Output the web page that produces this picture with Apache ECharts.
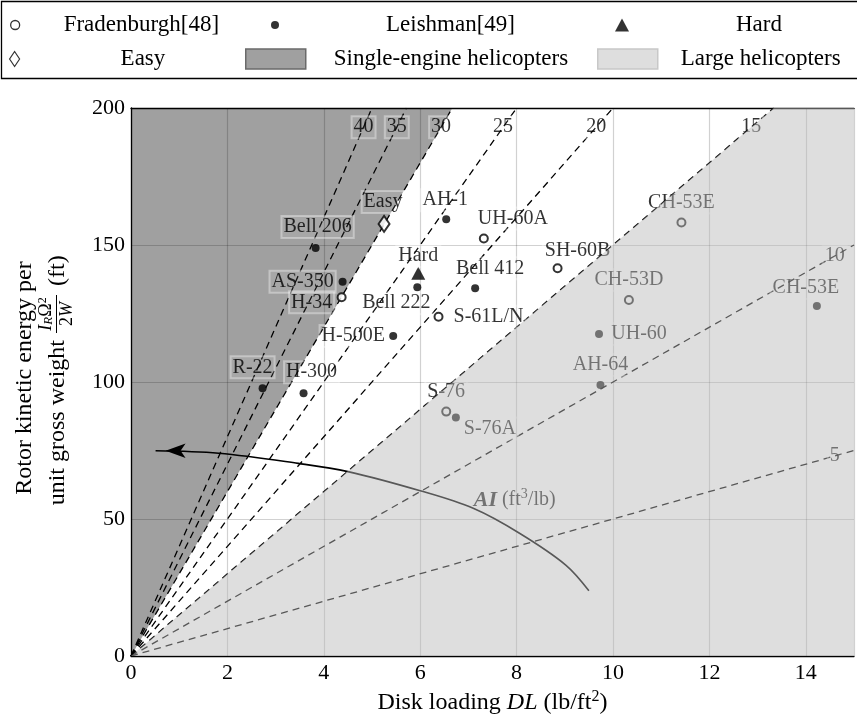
<!DOCTYPE html>
<html>
<head>
<meta charset="utf-8">
<script src="https://cdn.jsdelivr.net/npm/echarts@6/dist/echarts.min.js"></script>
<style>
  html, body { margin: 0; padding: 0; background: #fff; }
  #chart { width: 857px; height: 722px; }
</style>
</head>
<body>
<div id="chart"></div>
<script>
// Data
const fradenburghNames = ['H-34', 'UH-60A', 'S-61L/N', 'SH-60B', 'CH-53E', 'CH-53D', 'S-76'];
const fradenburghDL = [4.37, 7.32, 6.38, 8.85, 11.42, 10.33, 6.54];
const fradenburghKE = [130.9, 152.4, 123.8, 141.5, 158.2, 129.9, 89.2];

const leishmanNames = ['Bell 206', 'AS-350', 'R-22', 'H-300', 'AH-1', 'Bell 222', 'Bell 412', 'H-500E', 'UH-60', 'AH-64', 'S-76A', 'CH-53E'];
const leishmanDL = [3.83, 4.39, 2.73, 3.58, 6.54, 5.94, 7.14, 5.44, 9.71, 9.74, 6.74, 14.23];
const leishmanKE = [148.9, 136.6, 97.7, 95.9, 159.4, 134.6, 134.2, 116.8, 117.5, 98.9, 87.0, 127.7];

const hardPoint = [5.96, 139.7];
const easyPoint = [5.25, 157.7];

// constant autorotative index lines KE = AI * DL
const aiLevels = [40, 35, 30, 25, 20, 15, 10, 5];
const singleEngineAI = 30;   // upper edge of the single-engine wedge
const largeHeliAI = 15;      // upper edge of the large helicopter zone

// AI trend curve
const aiCurveDL = [0.51, 1.82, 3.47, 4.5, 6.0, 7.1, 8.06, 9.02, 9.5];
const aiCurveKE = [74.9, 74.0, 70.3, 67.3, 60.3, 53.9, 44.8, 33.2, 23.8];

const xTicks = { min: 0, max: 15, step: 2 };
const yTicks = { min: 0, max: 200, step: 50 };

// ---------------------------------------------------------------
const FONT = '"Liberation Serif", "DejaVu Serif", serif';

// label offsets from marker centre (px)
const labelOffsets = {
    'Fradenburgh[48]': {
        'H-34': [-30, 5], 'UH-60A': [29, -20], 'S-61L/N': [50, 0], 'SH-60B': [20, -18],
        'CH-53E': [0, -20], 'CH-53D': [0, -20], 'S-76': [0, -20]
    },
    'Leishman[49]': {
        'Bell 206': [2, -21], 'AS-350': [-40, 0], 'R-22': [-10, -21], 'H-300': [8, -21],
        'AH-1': [-1, -19], 'Bell 222': [-21, 16], 'Bell 412': [15, -20], 'H-500E': [-40, 0],
        'UH-60': [40, 0], 'AH-64': [0, -20], 'S-76A': [34, 11], 'CH-53E': [-11, -18]
    }
};

const boxLabel = {
    show: true,
    position: 'inside',
    formatter: '{b}',
    color: '#000',
    fontSize: 20,
    fontFamily: FONT,
    backgroundColor: 'rgba(255,255,255,0.1)',
    borderColor: 'rgba(255,255,255,0.45)',
    borderWidth: 1,
    padding: [2, 2, 0, 2],
    textBorderWidth: 0
};

function pointData(names, xs, ys, offsets) {
    return names.map((n, i) => ({
        name: n,
        value: [xs[i], ys[i]],
        label: { offset: offsets[n] || [0, -20] }
    }));
}

function lineEnd(ai) {
    return ai * xTicks.max <= yTicks.max ? [xTicks.max, ai * xTicks.max] : [yTicks.max / ai, yTicks.max];
}

function regionRenderer(vertices, fill) {
    return function (params, api) {
        return {
            type: 'polygon',
            shape: { points: vertices.map(v => api.coord(v)) },
            style: { fill: fill, stroke: null },
            silent: true
        };
    };
}

const darkFill = '#a0a0a0';
const lightFill = 'rgba(185,185,185,0.475)';

const series = [];

series.push({
    name: 'Single-engine helicopters',
    type: 'custom',
    z: -1,
    clip: true,
    silent: true,
    itemStyle: { color: darkFill, borderColor: '#6a6a6a', borderWidth: 1.5 },
    renderItem: regionRenderer([[0, 0], [0, yTicks.max], [yTicks.max / singleEngineAI, yTicks.max]], darkFill),
    data: [[0, 0]]
});

aiLevels.forEach(ai => {
    series.push({
        name: 'AI ' + ai,
        type: 'line',
        z: 3,
        silent: true,
        symbol: 'none',
        lineStyle: { color: '#000', width: 1.3, type: [7, 5] },
        data: [[0, 0], lineEnd(ai)]
    });
});

series.push({
    name: 'AI labels',
    type: 'scatter',
    z: 4,
    silent: true,
    symbolSize: 1,
    itemStyle: { color: 'rgba(0,0,0,0)' },
    label: boxLabel,
    data: aiLevels.map(ai => {
        const x = Math.min((yTicks.max - 7) / ai, 14.6);
        return { name: String(ai), value: [x, ai * x] };
    })
});

series.push({
    name: 'AI curve',
    type: 'line',
    z: 4,
    silent: true,
    smooth: 0.35,
    symbol: 'none',
    showSymbol: true,
    lineStyle: { color: '#000', width: 1.6 },
    itemStyle: { color: '#000' },
    data: aiCurveDL.map((x, i) => i === 0
        ? { value: [x, aiCurveKE[i]], symbol: 'arrow', symbolSize: [11, 20], symbolRotate: 90, symbolOffset: [10, 0] }
        : [x, aiCurveKE[i]])
});

series.push({
    name: 'AI note',
    type: 'scatter',
    z: 4,
    silent: true,
    symbolSize: 1,
    itemStyle: { color: 'rgba(0,0,0,0)' },
    label: {
        show: true,
        position: 'right',
        distance: 0,
        formatter: '{b|AI}{n| (ft}{s|3}{n|/lb)}',
        rich: {
            b: { fontFamily: FONT, fontSize: 22, fontWeight: 'bold', fontStyle: 'italic', color: '#000', lineHeight: 26 },
            n: { fontFamily: FONT, fontSize: 20, color: '#000', lineHeight: 26 },
            s: { fontFamily: FONT, fontSize: 14, color: '#000', lineHeight: 14, verticalAlign: 'top' }
        }
    },
    data: [[7.1, 56.9]]
});

series.push({
    name: 'Fradenburgh[48]',
    type: 'scatter',
    z: 5,
    silent: true,
    symbol: 'emptyCircle',
    symbolSize: 8,
    itemStyle: { color: '#000', borderColor: '#000', borderWidth: 1.3 },
    label: boxLabel,
    data: pointData(fradenburghNames, fradenburghDL, fradenburghKE, labelOffsets['Fradenburgh[48]'])
});

series.push({
    name: 'Leishman[49]',
    type: 'scatter',
    z: 5,
    silent: true,
    symbol: 'circle',
    symbolSize: 8,
    itemStyle: { color: '#000' },
    label: boxLabel,
    data: pointData(leishmanNames, leishmanDL, leishmanKE, labelOffsets['Leishman[49]'])
});

series.push({
    name: 'Hard',
    type: 'scatter',
    z: 5,
    silent: true,
    symbol: 'triangle',
    symbolSize: [14, 13],
    itemStyle: { color: '#000' },
    label: boxLabel,
    data: [{ name: 'Hard', value: hardPoint, label: { offset: [0, -17] } }]
});

series.push({
    name: 'Easy',
    type: 'scatter',
    z: 5,
    silent: true,
    symbol: 'emptyDiamond',
    symbolSize: [11, 16],
    itemStyle: { color: '#000', borderColor: '#000', borderWidth: 1.3 },
    label: boxLabel,
    data: [{ name: 'Easy', value: easyPoint, label: { offset: [-1, -22] } }]
});

series.push({
    name: 'Large helicopters',
    type: 'custom',
    z: 10,
    clip: true,
    silent: true,
    itemStyle: { color: lightFill, borderColor: '#c8c8c8', borderWidth: 1.5 },
    renderItem: regionRenderer([[0, 0], [yTicks.max / largeHeliAI, yTicks.max], [xTicks.max, yTicks.max], [xTicks.max, 0]], lightFill),
    data: [[0, 0]]
});

function legendItem(name, icon, left, top, w, h, pad, itemStyle) {
    const item = {
        data: [name],
        icon: icon,
        left: left,
        top: top,
        padding: 0,
        itemWidth: w,
        itemHeight: h,
        selectedMode: false,
        textStyle: { fontFamily: FONT, fontSize: 23, color: '#000', lineHeight: 26, padding: [0, 0, 0, pad] }
    };
    if (itemStyle) item.itemStyle = itemStyle;
    return item;
}

const legends = [
    legendItem('Fradenburgh[48]', 'circle', 10, 12, 9, 9, 39, { color: '#fff', borderColor: '#000', borderWidth: 1.3 }),
    legendItem('Leishman[49]', 'circle', 271, 12, 8, 8, 102, { color: '#000' }),
    legendItem('Hard', 'triangle', 615, 12, 14, 13, 102, { color: '#000' }),
    legendItem('Easy', 'diamond', 9, 46, 10, 15, 96, { color: '#fff', borderColor: '#000', borderWidth: 1.2 }),
    legendItem('Single-engine helicopters', 'rect', 245, 46, 60, 20, 23, { color: darkFill, borderColor: '#6a6a6a', borderWidth: 1.5 }),
    legendItem('Large helicopters', 'rect', 597, 46, 60, 20, 18, { color: '#dedede', borderColor: '#c8c8c8', borderWidth: 1.5 })
];

const axisLine = { show: true, onZero: false, lineStyle: { color: '#000', width: 1.3 } };
const gridLine = { show: true, lineStyle: { color: 'rgba(0,0,0,0.18)', width: 1.2 } };
const tickFont = { fontFamily: FONT, fontSize: 22, color: '#000' };

const option = {
    animation: false,
    backgroundColor: '#fff',
    textStyle: { fontFamily: FONT },
    grid: { left: 131, right: -4, top: 108, bottom: 66, containLabel: false },
    legend: legends,
    xAxis: [{
        type: 'value',
        position: 'bottom',
        min: xTicks.min,
        max: xTicks.max,
        interval: xTicks.step,
        axisLine: axisLine,
        axisTick: { show: false },
        axisLabel: Object.assign({ margin: 6, formatter: v => (v % xTicks.step === 0 ? String(v) : '') }, tickFont),
        splitLine: gridLine,
        name: '{n|Disk loading }{i|DL}{n| (lb/ft}{s|2}{n|)}',
        nameLocation: 'middle',
        nameGap: 32,
        nameTextStyle: {
            rich: {
                n: { fontFamily: FONT, fontSize: 24, color: '#000', lineHeight: 28 },
                i: { fontFamily: FONT, fontSize: 24, color: '#000', fontStyle: 'italic', lineHeight: 28 },
                s: { fontFamily: FONT, fontSize: 16, color: '#000', lineHeight: 16, verticalAlign: 'top' }
            }
        }
    }, {
        type: 'value',
        position: 'top',
        min: xTicks.min,
        max: xTicks.max,
        axisLine: axisLine,
        axisTick: { show: false },
        axisLabel: { show: false },
        splitLine: { show: false }
    }],
    yAxis: [{
        type: 'value',
        min: yTicks.min,
        max: yTicks.max,
        interval: yTicks.step,
        axisLine: axisLine,
        axisTick: { show: false },
        axisLabel: Object.assign({ margin: 6 }, tickFont),
        splitLine: gridLine
    }],
    graphic: [
        {
            type: 'rect',
            shape: { x: 1.5, y: 1.5, width: 870, height: 77 },
            style: { fill: null, stroke: '#000', lineWidth: 1.3 },
            silent: true
        },
        {
            type: 'group',
            x: 42,
            y: 378,
            rotation: Math.PI / 2,
            silent: true,
            children: [
                { type: 'text', x: 0, y: -17, style: { text: 'Rotor kinetic energy per', font: '24px ' + FONT, fill: '#000', align: 'center', verticalAlign: 'middle' } },
                { type: 'text', x: 38, y: 16, style: { text: 'unit gross weight', font: '24px ' + FONT, fill: '#000', align: 'right', verticalAlign: 'middle' } },
                {
                    type: 'text', x: 64, y: 13,
                    style: {
                        text: '{i|I}{b|R}{n|\u03A9}{p|2}',
                        align: 'center', verticalAlign: 'bottom',
                        rich: {
                            i: { fontFamily: FONT, fontSize: 18, fontStyle: 'italic', fill: '#000', lineHeight: 18 },
                            n: { fontFamily: FONT, fontSize: 18, fill: '#000', lineHeight: 18 },
                            b: { fontFamily: FONT, fontSize: 13, fontStyle: 'italic', fill: '#000', lineHeight: 13, verticalAlign: 'bottom' },
                            p: { fontFamily: FONT, fontSize: 12, fill: '#000', lineHeight: 12, verticalAlign: 'top' }
                        }
                    }
                },
                { type: 'line', shape: { x1: 45, y1: 14.5, x2: 83, y2: 14.5 }, style: { stroke: '#000', lineWidth: 1 } },
                {
                    type: 'text', x: 64, y: 16,
                    style: {
                        text: '{n|2}{i|W}', align: 'center', verticalAlign: 'top',
                        rich: {
                            n: { fontFamily: FONT, fontSize: 18, fill: '#000', lineHeight: 18 },
                            i: { fontFamily: FONT, fontSize: 18, fontStyle: 'italic', fill: '#000', lineHeight: 18 }
                        }
                    }
                },
                { type: 'text', x: 92, y: 16, style: { text: '(ft)', font: '24px ' + FONT, fill: '#000', align: 'left', verticalAlign: 'middle' } }
            ]
        }
    ],
    series: series
};

const chart = echarts.init(document.getElementById('chart'), null, { renderer: 'canvas' });
chart.setOption(option);
</script>
</body>
</html>
